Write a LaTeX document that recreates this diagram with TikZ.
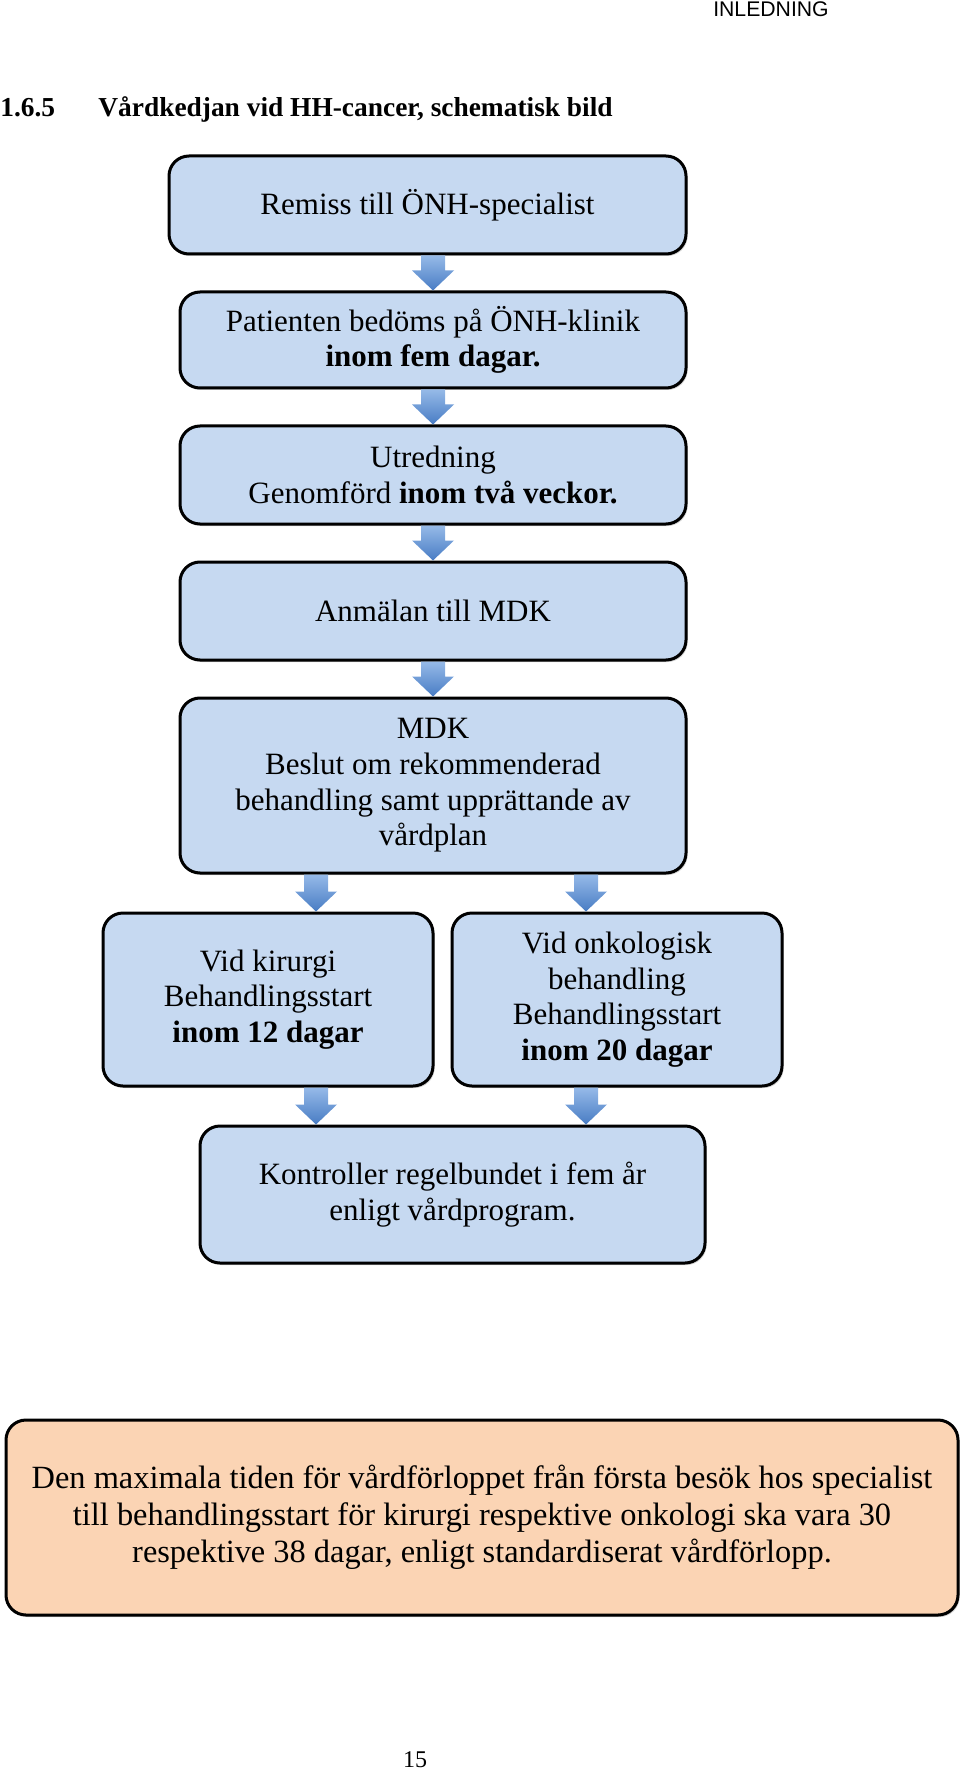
\documentclass[tikz,border=0pt]{standalone}
\usepackage{fontspec}
\setmainfont{Liberation Serif}
\newfontfamily\headfont{Liberation Sans}
\usepackage{tikz}
\usetikzlibrary{positioning,calc,shadows}
\usepackage{xcolor}

\definecolor{boxblue}{RGB}{198,217,241}
\definecolor{boxblueshade}{RGB}{128,156,198}
\definecolor{boxorange}{RGB}{251,212,180}
\definecolor{boxorangeshade}{RGB}{205,150,112}
\definecolor{arrowtop}{RGB}{150,186,232}
\definecolor{arrowbottom}{RGB}{72,124,196}

\pgfdeclareverticalshading{blueshade}{100bp}{color(0bp)=(boxblueshade); color(15bp)=(boxblue); color(100bp)=(boxblue)}
\pgfdeclareverticalshading{orangeshade}{100bp}{color(0bp)=(boxorangeshade); color(15bp)=(boxorange); color(100bp)=(boxorange)}

\newcommand{\flowarrow}[2]{%
  \shade[top color=arrowtop, bottom color=arrowbottom]
    ($(#1)+(-12,0)$) -- ($(#2)+(-12,-20)$) -- ($(#2)+(-21,-20)$) -- (#2)
    -- ($(#2)+(21,-20)$) -- ($(#2)+(12,-20)$) -- ($(#1)+(12,0)$) -- cycle;}

\begin{document}
\begin{tikzpicture}[x=0.5pt, y=-0.5pt,
    chainbox/.style={draw=black, line width=1.5pt, rounded corners=10pt,
      shading=blueshade, align=center, inner sep=0pt,
      drop shadow={shadow xshift=0.8pt, shadow yshift=-1pt, opacity=0.35},
      font=\fontsize{15.5}{17.8}\selectfont},
    notebox/.style={chainbox, shading=orangeshade,
      font=\fontsize{16.2}{18.5}\selectfont}]
  \useasboundingbox (0,0) rectangle (960,1770);

  % page head
  \node[font=\headfont\fontsize{10.6}{12}\selectfont, inner sep=0pt] (chapter) at (771,9) {INLEDNING};
  \node[anchor=base west, inner sep=0pt, font=\bfseries\fontsize{13.7}{16}\selectfont] (secnum) at (0,117) {1.6.5};
  \node[anchor=base west, inner sep=0pt, font=\bfseries\fontsize{13.7}{16}\selectfont] (sectitle) at (98,117) {Vårdkedjan vid HH-cancer, schematisk bild};

  % the chain
  \node[chainbox, minimum width=258.5pt, minimum height=49pt] (remiss) at (427.5,205) {Remiss till ÖNH-specialist};
  \node[chainbox, minimum width=253pt, minimum height=48pt] (bedoms) at (433,340) {Patienten bedöms på ÖNH-klinik\\ \textbf{inom fem dagar.}};
  \node[chainbox, minimum width=253pt, minimum height=49pt] (utredning) at (433,475) {Utredning\\ Genomförd \textbf{inom två veckor.}};
  \node[chainbox, minimum width=253pt, minimum height=49pt] (anmalan) at (433,611) {Anmälan till MDK};
  \node[chainbox, minimum width=253pt, minimum height=87.5pt] (mdk) at (433,785.5) {MDK\\ Beslut om rekommenderad\\ behandling samt upprättande av\\ vårdplan};
  \node[chainbox, minimum width=165pt, minimum height=86.5pt] (kirurgi) at (268,999.5) {Vid kirurgi\\ Behandlingsstart\\ \textbf{inom 12 dagar}};
  \node[chainbox, minimum width=165pt, minimum height=86.5pt] (onkologi) at (617,999.5) {Vid onkologisk\\ behandling\\ Behandlingsstart\\ \textbf{inom 20 dagar}};
  \node[chainbox, minimum width=252.5pt, minimum height=68.5pt] (kontroll) at (452.5,1194.5) {Kontroller regelbundet i fem år\\ enligt vårdprogram.};

  \node[notebox, minimum width=476pt, minimum height=97.5pt] (maxtid) at (482,1517.5) {Den maximala tiden för vårdförloppet från första besök hos specialist\\ till behandlingsstart för kirurgi respektive onkologi ska vara 30\\ respektive 38 dagar, enligt standardiserat vårdförlopp.};

  \node[anchor=base, inner sep=0pt, font=\fontsize{12}{14}\selectfont] (pagenum) at (415,1767) {15};

  % arrows
  \coordinate (splitL) at (316,0);
  \coordinate (splitR) at (586,0);
  \flowarrow{bedoms.north |- remiss.south}{bedoms.north}
  \flowarrow{bedoms.south}{utredning.north}
  \flowarrow{utredning.south}{anmalan.north}
  \flowarrow{anmalan.south}{mdk.north}
  \flowarrow{splitL |- mdk.south}{splitL |- kirurgi.north}
  \flowarrow{splitR |- mdk.south}{splitR |- onkologi.north}
  \flowarrow{splitL |- kirurgi.south}{splitL |- kontroll.north}
  \flowarrow{splitR |- onkologi.south}{splitR |- kontroll.north}
\end{tikzpicture}
\end{document}
